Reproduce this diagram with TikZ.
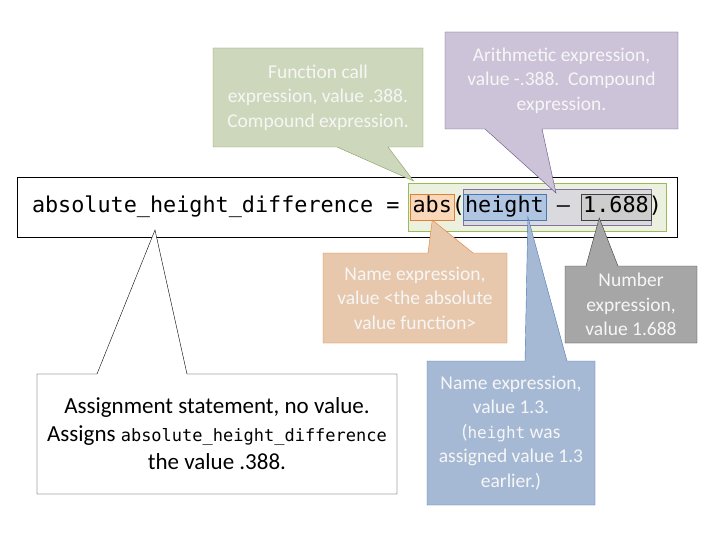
\documentclass[tikz,border=0pt]{standalone}
\usepackage{fontspec}
\setmainfont{Carlito}
\newfontfamily\codefont{DejaVu Sans Mono}
\usepackage{tikz}
\usetikzlibrary{positioning,fit,calc}

\definecolor{notetext}{RGB}{246,246,246}
\definecolor{fcfill}{RGB}{205,215,187}
\definecolor{fcline}{RGB}{137,157,88}
\definecolor{arfill}{RGB}{204,195,216}
\definecolor{arline}{RGB}{96,80,130}
\definecolor{nmfill}{RGB}{231,200,172}
\definecolor{nmline}{RGB}{226,128,50}
\definecolor{htfill}{RGB}{166,185,212}
\definecolor{htline}{RGB}{74,120,181}
\definecolor{nbfill}{RGB}{166,166,166}
\definecolor{nbline}{RGB}{64,64,64}

\pgfdeclarelayer{codelayer}
\pgfdeclarelayer{notelayer}
\pgfsetlayers{codelayer,notelayer,main}

\begin{document}
\begin{tikzpicture}[x=1pt, y=-1pt, node distance=0pt, line width=0.8pt,
  tok/.style={font=\codefont\fontsize{21.8}{26}\selectfont, inner sep=0pt, outer sep=0pt, text height=17pt, text depth=5pt},
  hl/.style={inner sep=2pt, outer sep=0pt},
  note/.style={align=center, inner sep=0pt, outer sep=0pt, text=notetext, font=\fontsize{19.5}{24.5}\selectfont}]
  \useasboundingbox (0,0) rectangle (720,540);

  \node[tok, anchor=west] (lhs) at (32,207) {absolute\_height\_difference};
  \node[tok, right=of lhs] (eq) {\mbox{ = }};
  \node[tok, right=of eq] (absword) {abs};
  \node[tok, right=of absword] (lpar) {(};
  \node[tok, right=of lpar] (htword) {height};
  \node[tok, right=of htword] (minus) {\mbox{ – }};
  \node[tok, right=of minus] (numword) {1.688};
  \node[tok, right=of numword] (rpar) {)};

  \begin{pgfonlayer}{codelayer}
    \fill[white] (0,0) rectangle (720,540);
    \node[draw, fill=white, inner xsep=15pt, inner ysep=19pt, fit=(lhs)(rpar)] (code) {};
    \node[hl, draw={rgb,255:red,155;green,187;blue,89}, fill={rgb,255:red,235;green,241;blue,222}, inner xsep=4pt, inner ysep=13pt, fit=(absword)(rpar)] (funchl) {};
    \node[hl, draw={rgb,255:red,128;green,115;blue,160}, fill={rgb,255:red,217;green,217;blue,222}, inner ysep=7pt, fit=(htword)(numword)] (arithhl) {};
    \node[hl, draw=htline, fill={rgb,255:red,175;green,197;blue,226}, fit=(htword)] (heighthl) {};
    \node[hl, draw=nmline, fill={rgb,255:red,250;green,215;blue,185}, fit=(absword)] (abshl) {};
    \node[hl, draw=nbline, fill={rgb,255:red,205;green,205;blue,205}, fit=(numword)] (numhl) {};
  \end{pgfonlayer}

  \coordinate (functip) at ($(funchl.north west)+(5,-2)$);
  \coordinate (arithtip) at ($(arithhl.north)+(-1,4)$);
  \coordinate (abstip) at (abshl.south);
  \coordinate (htip) at ($(heighthl.south east)+(-18,-3)$);
  \coordinate (numtip) at ($(numhl.south west)+(18,-2)$);
  \coordinate (asgtip) at ($(lhs.south west)+(123,12)$);

  \node[note, minimum width=210pt, minimum height=99pt] (fcnote) at (318,97.5)
    {Function call\\expression, value .388.\\Compound expression.};
  \node[note, minimum width=233pt, minimum height=97pt] (arnote) at (561.5,80.5)
    {Arithmetic expression,\\value -.388.~~Compound\\expression.};
  \node[note, minimum width=184pt, minimum height=90pt] (nmnote) at (415,298)
    {Name expression,\\value <the absolute\\value function>};
  \node[note, minimum width=132pt, minimum height=77pt] (nbnote) at (631,304.5)
    {Number\\expression,\\value 1.688};
  \node[note, minimum width=168pt, minimum height=144pt] (htnote) at (511,433)
    {Name expression,\\value 1.3.\\({\codefont\fontsize{16}{24.5}\selectfont height} was\\assigned value 1.3\\earlier.)};
  \node[note, text=black, font=\fontsize{23}{28}\selectfont, minimum width=360pt, minimum height=120pt] (asgnote) at (217,434)
    {Assignment statement, no value.\\Assigns {\codefont\fontsize{17}{28}\selectfont absolute\_height\_difference}\\the value .388.};

  \begin{pgfonlayer}{notelayer}
    \draw[draw=fcline, fill=fcfill] (fcnote.north west) -- (fcnote.north east) -- (fcnote.south east)
      -- (388,0 |- fcnote.south) -- (functip) -- (337,0 |- fcnote.south) -- (fcnote.south west) -- cycle;
    \draw[draw=arline, fill=arfill] (arnote.north west) -- (arnote.north east) -- (arnote.south east)
      -- (542,0 |- arnote.south) -- (arithtip) -- (485,0 |- arnote.south) -- (arnote.south west) -- cycle;
    \draw[draw=nmline, fill=nmfill] (nmnote.north west) -- (428,0 |- nmnote.north) -- (abstip)
      -- (473,0 |- nmnote.north) -- (nmnote.north east) -- (nmnote.south east) -- (nmnote.south west) -- cycle;
    \draw[draw=nbline, fill=nbfill] (nbnote.north west) -- (586,0 |- nbnote.north) -- (numtip)
      -- (618,0 |- nbnote.north) -- (nbnote.north east) -- (nbnote.south east) -- (nbnote.south west) -- cycle;
    \draw[draw=htline, fill=htfill] (htnote.north west) -- (525,0 |- htnote.north) -- (htip)
      -- (567,0 |- htnote.north) -- (htnote.north east) -- (htnote.south east) -- (htnote.south west) -- cycle;
    \draw[fill=white] (asgnote.north west) -- (97,0 |- asgnote.north) -- (asgtip)
      -- (187,0 |- asgnote.north) -- (asgnote.north east) -- (asgnote.south east) -- (asgnote.south west) -- cycle;
  \end{pgfonlayer}
\end{tikzpicture}
\end{document}
